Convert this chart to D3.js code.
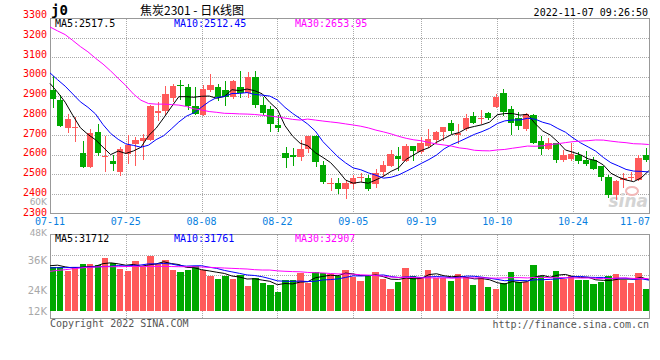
<!DOCTYPE html>
<html>
<head>
<meta charset="utf-8">
<script src="https://cdn.jsdelivr.net/npm/d3@7"></script>
<style>
  html, body { margin: 0; padding: 0; background: #fff; }
  svg { display: block; }
</style>
</head>
<body>
<script>
// ---------------- DATA ----------------
const dates = [
  "07-11","07-12","07-13","07-14","07-15","07-18","07-19","07-20","07-21","07-22",
  "07-25","07-26","07-27","07-28","07-29","08-01","08-02","08-03","08-04","08-05",
  "08-08","08-09","08-10","08-11","08-12","08-15","08-16","08-17","08-18","08-19",
  "08-22","08-23","08-24","08-25","08-26","08-29","08-30","08-31","09-01","09-02",
  "09-05","09-06","09-07","09-08","09-09","09-13","09-14","09-15","09-16","09-19",
  "09-20","09-21","09-22","09-23","09-26","09-27","09-28","09-29","09-30","10-10",
  "10-11","10-12","10-13","10-14","10-17","10-18","10-19","10-20","10-21","10-24",
  "10-25","10-26","10-27","10-28","10-31","11-01","11-02","11-03","11-04","11-07"
];
const tickDates = ["07-11","07-25","08-08","08-22","09-05","09-19","10-10","10-24","11-07"];

const open  = [2934,2880,2739,2740,2610,2540,2717,2588,2567,2513,2605,2656,2671,2676,2815,2825,2893,2956,2950,2848,
               2803,2934,2950,2934,2899,2950,2916,3000,2857,2833,2752,2610,2600,2587,2629,2696,2550,2453,2457,2423,
               2449,2482,2482,2449,2513,2545,2592,2567,2646,2617,2646,2676,2718,2764,2700,2732,2798,2784,2815,2845,
               2916,2836,2790,2735,2806,2671,2632,2659,2575,2580,2600,2572,2575,2545,2487,2393,2474,2481,2471,2600];
const high  = [3004,2908,2808,2794,2671,2735,2757,2697,2600,2638,2700,2690,2707,2858,2870,2955,2965,2985,2963,2950,
               2960,3013,2963,2980,2983,3030,3022,3030,2899,2852,2803,2639,2636,2676,2696,2700,2570,2481,2482,2466,
               2499,2508,2499,2530,2570,2627,2643,2656,2646,2690,2732,2723,2744,2777,2757,2808,2820,2828,2820,2912,
               2938,2848,2820,2816,2811,2697,2685,2659,2626,2659,2617,2620,2587,2545,2499,2469,2508,2511,2600,2634];
const low   = [2847,2748,2718,2673,2540,2540,2600,2520,2521,2496,2560,2550,2580,2676,2777,2811,2875,2884,2833,2808,
               2803,2929,2882,2853,2892,2899,2895,2845,2808,2722,2722,2540,2548,2572,2617,2545,2454,2422,2406,2380,
               2432,2464,2420,2437,2491,2541,2525,2567,2572,2612,2643,2663,2676,2713,2663,2727,2761,2761,2786,2845,
               2803,2707,2735,2727,2659,2605,2632,2562,2570,2572,2558,2548,2530,2471,2384,2373,2435,2471,2471,2567];
const close = [2884,2750,2782,2742,2540,2712,2612,2592,2552,2631,2650,2676,2686,2848,2823,2914,2954,2952,2848,2808,
               2939,2960,2895,2895,2980,2916,3000,2853,2815,2759,2739,2582,2587,2631,2696,2562,2460,2457,2423,2454,
               2482,2489,2427,2508,2548,2607,2580,2646,2621,2659,2680,2718,2744,2722,2710,2789,2764,2787,2789,2899,
               2820,2764,2747,2808,2663,2632,2659,2572,2600,2605,2567,2555,2530,2487,2393,2466,2482,2487,2585,2575];
const volume = [35820,35820,34480,35820,37010,37010,36650,39300,37260,35200,34480,38100,35820,39910,36900,38460,34840,34000,34840,36290,
                34840,32670,31580,32670,31580,33030,29050,32060,30250,29410,26880,31220,31220,33640,30030,34000,33760,33390,32670,34840,
                32430,30860,33030,34120,31580,27960,30500,35570,32670,32310,34840,32070,31830,30980,33390,32430,29530,32430,28810,28080,
                30020,34120,30620,30380,36650,32670,30860,34480,31580,32670,31220,31220,29770,30620,32670,33390,31220,30140,33760,27960];

// moving-average values before the window is full (earlier sessions are not shown)
const ma5Head  = [2966,2921,2870,2803];
const ma10Head = [3020,2985,2952,2912,2872,2844,2810,2755,2710];
const ma30Head = [3255,3235,3216,3186,3155,3128,3095,3065,3030,2992,2955,2912,2880,2863,2860,2860,2858,2855,2848,2836,
                  2830,2822,2818,2813,2812,2810,2809,2807,2803];
const vma5Head  = [36400,36600,36000,35600];
const vma10Head = [35600,35700,35700,35800,35800,35900,36000,36100,36200];
const vma30Head = [34360,34720,34960,35300,35570,35820,35930,36040,36040,36040,36100,36160,36160,36160,36160,36160,36100,36040,36040,36040,
                   35930,35820,35700,35570,35450,35330,35210,34970,34840];

const priceTicks = [3300,3200,3100,3000,2900,2800,2700,2600,2500,2400,2300];
const volTickLabels = ["48K","36K","24K","12K"];
const maPeriods = [5,10,30];
const priceMaLast = ["2517.5","2512.45","2653.95"];
const volMaLast = ["31712","31761","32907"];
const maColors = ["#000000","#0000ff","#ff00ff"];
const titleCode = "j0";
const titleText = "焦炭2301 - 日K线图";
const timeStamp = "2022-11-07 09:26:50";

// ---------------- LAYOUT ----------------
const W = 660, H = 360;
const L = 50, R = 649;
const pTop = 18.5, pBot = 213.5;
const vTop = 234.5, vBot = 318.5, vBase = 311;
const mono = "'DejaVu Sans Mono', 'Liberation Mono', monospace";
const UP = "#ff5a5a", DOWN = "#00a800";
const GRID = "#aaaaaa", FRAME = "#999999";

const svg = d3.select("body").append("svg").attr("width", W).attr("height", H);

const n = dates.length;
const xc = d3.scaleLinear().domain([0, n - 1]).range([52.7, 646]);   // candle / bar centres
const xl = d3.scaleLinear().domain([0, n - 1]).range([50, 648.8]);   // grid + MA lines
const yp = d3.scaleLinear().domain([2300, 3300]).range([213.5, 18.2]);
const ypLab = d3.scaleLinear().domain([2300, 3300]).range([212.2, 15]);
const yv = d3.scaleLinear().domain([20000, 48000]).range([vBase, 233.7]);

function ma(arr, p, head) {
  return arr.map((d, i) => i < p - 1 ? head[i] : d3.mean(arr.slice(i - p + 1, i + 1)));
}
const priceHeads = [ma5Head, ma10Head, ma30Head];
const volHeads = [vma5Head, vma10Head, vma30Head];
const priceMA = maPeriods.map((p, k) => ma(close, p, priceHeads[k]));
const volMA = maPeriods.map((p, k) => ma(volume, p, volHeads[k]));

const idx = d3.range(n);
const tickIdx = tickDates.map(t => dates.indexOf(t));
const isUp = i => close[i] >= open[i];
const snap = v => Math.round(v) + 0.5;

// ---------------- GRID ----------------
const grid = svg.append("g").attr("stroke", GRID).attr("stroke-dasharray", "1,1")
  .attr("shape-rendering", "crispEdges");
priceTicks.filter(p => p > 2300 && p < 3300).forEach(p => {
  grid.append("line").attr("x1", L).attr("x2", R).attr("y1", snap(yp(p))).attr("y2", snap(yp(p)));
});
[255.5, 275.5, 295.5].forEach(y => {
  grid.append("line").attr("x1", L).attr("x2", R).attr("y1", y).attr("y2", y);
});
tickIdx.filter(i => i > 0 && i < n - 1).forEach(i => {
  const x = snap(xl(i));
  grid.append("line").attr("x1", x).attr("x2", x).attr("y1", pTop).attr("y2", pBot);
  grid.append("line").attr("x1", x).attr("x2", x).attr("y1", vTop).attr("y2", vBot);
});

// frames
svg.append("rect").attr("x", L + 0.5).attr("y", pTop).attr("width", R - L).attr("height", pBot - pTop)
  .attr("fill", "none").attr("stroke", FRAME).attr("shape-rendering", "crispEdges");
svg.append("rect").attr("x", L + 0.5).attr("y", vTop).attr("width", R - L).attr("height", vBot - vTop)
  .attr("fill", "none").attr("stroke", FRAME).attr("shape-rendering", "crispEdges");

// watermark
const wm = svg.append("g");
wm.append("text").attr("x", 648).attr("y", 207).attr("text-anchor", "end")
  .attr("font-family", "'DejaVu Sans', sans-serif").attr("font-style", "italic").attr("font-weight", "bold")
  .attr("font-size", 17).attr("fill", "#d4d4d4").text("sina");
wm.append("ellipse").attr("cx", 632).attr("cy", 191).attr("rx", 6).attr("ry", 4)
  .attr("fill", "none").attr("stroke", "#f2b8b8").attr("stroke-width", 2);

// ---------------- CANDLES ----------------
const candles = svg.append("g").attr("shape-rendering", "crispEdges");
idx.forEach(i => {
  const c = isUp(i) ? UP : DOWN;
  const cx = Math.round(xc(i));
  candles.append("line").attr("x1", cx + 0.5).attr("x2", cx + 0.5)
    .attr("y1", Math.round(yp(high[i]))).attr("y2", Math.round(yp(low[i])) + 1).attr("stroke", c);
  const x0 = Math.round(xc(i) - 3.2), x1 = Math.round(xc(i) + 3.2);
  const yt = Math.round(yp(Math.max(open[i], close[i])));
  const yb = Math.round(yp(Math.min(open[i], close[i])));
  candles.append("rect").attr("x", x0).attr("y", yt).attr("width", x1 - x0)
    .attr("height", Math.max(1, yb - yt)).attr("fill", c);
});

// volume bars
const bars = svg.append("g").attr("shape-rendering", "crispEdges");
idx.forEach(i => {
  const x0 = Math.round(xc(i) - 3.2), x1 = Math.round(xc(i) + 3.2);
  const yt = Math.round(yv(volume[i]));
  bars.append("rect").attr("x", x0).attr("y", yt).attr("width", x1 - x0)
    .attr("height", vBase - yt).attr("fill", isUp(i) ? UP : DOWN);
});

// ---------------- MA LINES ----------------
const linePrice = d3.line().x((d, i) => xl(i)).y(d => yp(d));
const lineVol = d3.line().x((d, i) => xl(i)).y(d => yv(d));
priceMA.forEach((s, k) => {
  svg.append("path").attr("d", linePrice(s)).attr("fill", "none").attr("stroke", maColors[k]).attr("stroke-width", 1);
});
volMA.forEach((s, k) => {
  svg.append("path").attr("d", lineVol(s)).attr("fill", "none").attr("stroke", maColors[k]).attr("stroke-width", 1);
});

// ---------------- TEXT ----------------
const txt = (x, y, s, opts = {}) => svg.append("text").attr("x", x).attr("y", y)
  .attr("font-family", opts.family || mono).attr("font-size", opts.size || 10)
  .attr("fill", opts.fill || "#000").attr("text-anchor", opts.anchor || "start")
  .attr("font-weight", opts.weight || "normal").text(s);

// price axis labels
priceTicks.forEach(p => txt(47, ypLab(p) + 3.3, String(p), { anchor: "end", fill: "#ff0000" }));
// stray volume label visible in the price column
txt(47, 204.5, "60K", { anchor: "end", fill: "#a8a8a8", family: "'DejaVu Sans', sans-serif", size: 9 });
// volume axis labels
[235.8, 263.5, 293.5, 314.5].forEach((y, k) =>
  txt(47, y, volTickLabels[k], { anchor: "end", fill: "#a8a8a8", family: "'DejaVu Sans', sans-serif", size: k === 0 ? 9 : 10 }));

// date labels
tickIdx.forEach((i, k) => {
  const last = k === tickIdx.length - 1;
  txt(last ? 650 : xl(i), 225.2, dates[i], { anchor: last ? "end" : "middle", fill: "#0a7fe0" });
});

// MA headers
const maX = [55, 174, 295];
maPeriods.forEach((p, k) => {
  txt(maX[k], 27, "MA" + p + ":" + priceMaLast[k], { fill: maColors[k] });
  txt(maX[k], 242, "MA" + p + ":" + volMaLast[k], { fill: maColors[k] });
});

// title
txt(51, 15, titleCode, { size: 14, weight: "bold" });
txt(140, 15, titleText, { family: "'Noto Sans CJK SC', sans-serif", size: 12 });
txt(648, 16, timeStamp, { anchor: "end" });

// footer
txt(50, 327, "Copyright 2022 SINA.COM", { fill: "#555555" });
txt(649, 328, "http://finance.sina.com.cn", { anchor: "end", fill: "#555555" });
</script>
</body>
</html>
